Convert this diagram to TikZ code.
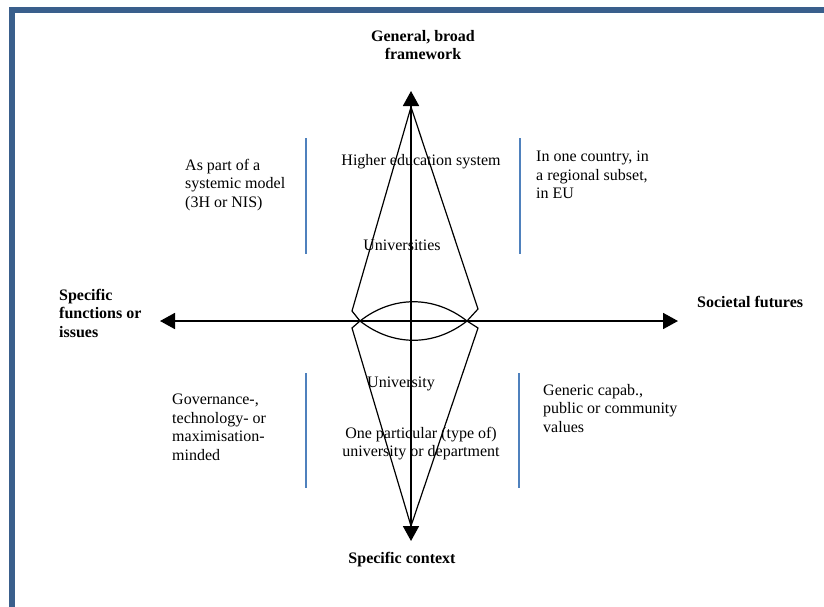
\documentclass[tikz,border=0pt]{standalone}
\usepackage{fontspec}
\setmainfont{Liberation Serif}
\usetikzlibrary{arrows.meta, positioning}
\definecolor{frameblue}{RGB}{58, 95, 140}
\definecolor{dividerblue}{RGB}{79, 129, 189}

\begin{document}
\begin{tikzpicture}[
    x=1pt, y=-1pt,
    font=\fontsize{16}{18.5}\selectfont,
    axis/.style={line width=1.8pt,
                 {Triangle[length=15pt, width=16pt]}-{Triangle[length=15pt, width=16pt]}},
    cone/.style={line width=1.2pt, line join=miter},
    divider/.style={line width=1.6pt, draw=dividerblue},
    pole/.style={font=\fontsize{16}{18.5}\selectfont\bfseries, align=center, inner sep=0pt},
    note/.style={align=left, inner sep=0pt, anchor=north west},
    level/.style={inner sep=0pt, anchor=base}
]
\useasboundingbox (0,0) rectangle (824,606);

% frame
\draw[line width=6pt, frameblue] (12,620) -- (12,10) -- (840,10);

% axes
\coordinate (centre) at (411,321);
\coordinate (north) at (411,91);
\coordinate (south) at (411,541);
\coordinate (west) at (160,321);
\coordinate (east) at (678,321);
\draw[axis] (south) -- (north);
\draw[axis] (west) -- (east);

% cones and lens
\coordinate (topapex) at (411,107);
\coordinate (botapex) at (411,526);
\coordinate (lenswest) at (360,321);
\coordinate (lenseast) at (467,321);
\draw[cone] (lenswest) -- (352,311) -- (topapex) -- (478,309) -- (lenseast);
\draw[cone] (lenswest) -- (352,328) -- (botapex) -- (478,328) -- (lenseast);
\draw[cone] (lenswest) to[bend left=38] (lenseast);
\draw[cone] (lenswest) to[bend right=38] (lenseast);

% dividers
\draw[divider] (306,138) -- (306,254);
\draw[divider] (520,138) -- (520,254);
\draw[divider] (306,373) -- (306,488);
\draw[divider] (519,373) -- (519,488);

% pole labels
\node[pole, anchor=north] (general) at (423,30) {General, broad\\framework};
\node[pole, anchor=base] (context) at (402,563) {Specific context};
\node[pole, anchor=north west, align=left] (functions) at (59,289) {Specific\\functions or\\issues};
\node[pole, anchor=base west] (futures) at (697,307) {Societal futures};

% levels
\node[level] (hesystem) at (421,165) {Higher education system};
\node[level] (universities) at (402,250) {Universities};
\node[level] (university) at (401,387) {University};
\node[level, anchor=north, align=center] (particular) at (421,427) {One particular (type of)\\university or department};

% side notes
\node[note] (systemic) at (185,159) {As part of a\\systemic model\\(3H or NIS)};
\node[note] (country) at (536,151) {In one country, in\\a regional subset,\\in EU};
\node[note] (governance) at (172,394) {Governance-,\\technology- or\\maximisation-\\minded};
\node[note] (generic) at (543,384) {Generic capab.,\\public or community\\values};
\end{tikzpicture}
\end{document}
